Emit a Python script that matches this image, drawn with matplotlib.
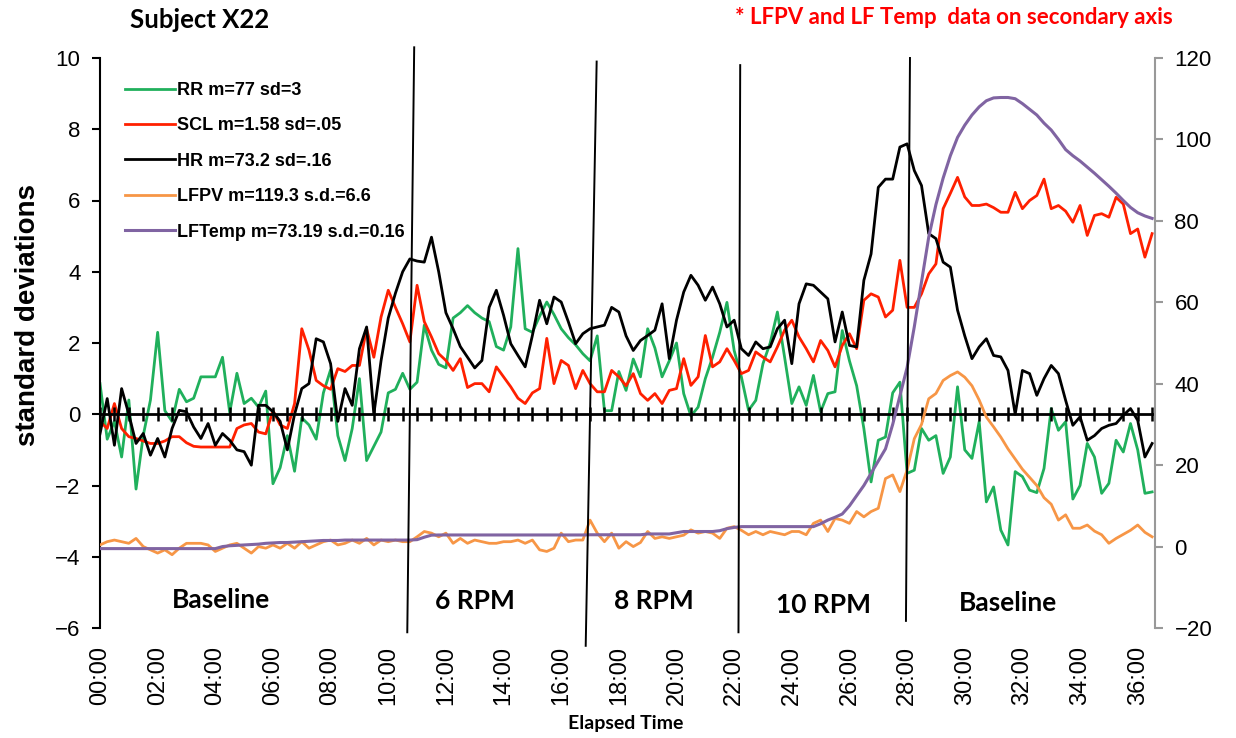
import matplotlib
matplotlib.use("Agg")
import matplotlib.pyplot as plt
import numpy as np
from matplotlib.lines import Line2D

# samples every 15 s (0.25 min), 0 .. 36.5 min
rr = [0.86, -0.7, -0.2, -1.2,
      0.4, -2.1, -0.6, 0.4,
      2.3, 0.1, -0.2, 0.7,
      0.35, 0.45, 1.05, 1.05,
      1.05, 1.6, 0.05, 1.15,
      0.3, 0.45, 0.2, 0.65,
      -1.95, -1.5, -0.6, -1.6,
      -0.1, -0.3, -0.7, 0.6,
      1.25, -0.6, -1.3, -0.4,
      1.0, -1.3, -0.9, -0.5,
      0.6, 0.7, 1.15, 0.7,
      0.9, 2.5, 1.8, 1.4,
      1.3, 2.7, 2.85, 3.05,
      2.85, 2.7, 2.6, 1.9,
      1.8, 2.45, 4.65, 2.4,
      2.3, 2.75, 3.15, 2.8,
      2.4, 2.15, 1.95, 1.7,
      1.5, 2.2, 0.1, 0.1,
      1.2, 0.67, 1.55, 1.05,
      2.4, 1.86, 1.05, 1.5,
      2.0, 0.58, -0.05, 0.2,
      1.0, 1.6, 2.3, 3.14,
      1.79, 1.05, 0.11, 0.39,
      1.42, 2.0, 2.87, 1.6,
      0.3, 0.77, 0.25, 1.09,
      0.07, 0.58, 0.63, 2.35,
      1.5, 0.8, -0.4, -1.9,
      -0.73, -0.64, 0.6, 0.9,
      -1.66, -1.57, -0.4, -0.73,
      -0.6, -1.66, -1.2, 0.77,
      -1.0, -1.24, -0.21, -2.46,
      -2.04, -3.25, -3.67, -1.61,
      -1.75, -2.13, -2.2, -1.52,
      0.16, -0.45, -0.21, -2.38,
      -2.0, -0.82, -1.2, -2.22,
      -1.94, -0.73, -1.06, -0.26,
      -1.0, -2.22, -2.18]

scl = [-0.2, -0.4, 0.3, -0.4,
       -0.63, -0.68, -0.75, -0.82,
       -0.82, -0.75, -0.63, -0.63,
       -0.8, -0.9, -0.92, -0.92,
       -0.92, -0.92, -0.92, -0.4,
       -0.3, -0.26, -0.5, -0.55,
       0.1, -0.3, -0.4, 0.3,
       2.4, 1.8, 0.95, 0.8,
       0.7, 1.28, 1.2, 1.37,
       1.37, 2.4, 1.6, 2.73,
       3.48, 3.0, 2.54, 2.03,
       3.62, 2.6, 2.17, 1.7,
       1.51, 1.23, 1.56, 0.75,
       0.86, 0.86, 0.63, 1.33,
       1.05, 0.77, 0.45, 0.3,
       0.6, 0.72, 2.13, 0.86,
       1.51, 1.37, 0.72, 1.23,
       0.86, 0.63, 0.63, 1.23,
       1.05, 0.8, 1.14, 0.58,
       0.39, 0.58, 0.3, 0.67,
       0.72, 1.56, 0.81, 1.05,
       2.21, 1.33, 1.47, 1.84,
       1.51, 1.14, 1.23, 1.75,
       1.6, 1.47, 1.89, 2.36,
       2.64, 2.17, 1.84, 1.47,
       2.07, 1.79, 1.33, 1.93,
       2.26, 1.84, 3.2, 3.38,
       3.29, 2.73, 2.92, 4.32,
       3.0, 3.0, 3.38, 3.94,
       4.22, 5.77, 6.2, 6.65,
       6.1, 5.86, 5.86, 5.9,
       5.8, 5.67, 5.67, 6.23,
       5.77, 6.0, 6.14, 6.6,
       5.77, 5.86, 5.7, 5.39,
       5.86, 5.02, 5.58, 5.63,
       5.53, 6.09, 5.9, 5.07,
       5.2, 4.41, 5.07]

hr = [-0.55, 0.44, -0.87, 0.72,
      0.0, -0.82, -0.54, -1.15,
      -0.68, -1.2, -0.4, 0.11,
      0.07, -0.36, -0.68, -0.26,
      -0.87, -0.54, -0.73, -1.0,
      -1.05, -1.43, 0.25, 0.25,
      0.07, -0.2, -1.0, 0.0,
      0.72, 0.86, 2.12, 2.03,
      1.42, -0.2, 0.72, 0.25,
      1.84, 2.45, 0.0, 1.5,
      2.7, 3.4, 4.0, 4.36,
      4.3, 4.27, 4.97, 4.0,
      2.85, 2.4, 1.9, 1.6,
      1.3, 1.51, 3.0, 3.48,
      2.78, 1.98, 1.65, 1.33,
      2.21, 3.2, 2.54, 3.29,
      3.15, 2.59, 1.98, 2.26,
      2.4, 2.45, 2.5, 3.0,
      2.87, 2.2, 1.79, 2.07,
      2.21, 2.36, 3.1, 1.56,
      2.64, 3.43, 3.9, 3.62,
      3.2, 3.57, 3.1, 2.45,
      2.64, 1.84, 1.65, 2.03,
      1.84, 1.89, 2.4, 2.64,
      1.42, 3.1, 3.66, 3.62,
      3.43, 3.24, 2.03, 2.87,
      1.93, 1.89, 3.76, 4.5,
      6.37, 6.6, 6.6, 7.5,
      7.59, 6.84, 6.42, 5.07,
      4.93, 4.27, 4.13, 2.92,
      2.2, 1.56, 1.89, 2.12,
      1.65, 1.61, 1.23, 0.0,
      1.23, 1.14, 0.53, 1.0,
      1.37, 1.14, 0.39, -0.31,
      -0.07, -0.73, -0.6, -0.4,
      -0.31, -0.26, -0.03, 0.16,
      -0.17, -1.2, -0.82]

# secondary axis series
lfpv = [0.4, 1.2, 1.6, 1.2,
        0.8, 2.0, 0.0, -0.8,
        -1.6, -0.8, -2.0, -0.4,
        0.8, 0.8, 0.8, 0.4,
        -1.2, -0.4, 0.4, 0.8,
        -0.4, -1.6, 0.0, -0.4,
        0.4, -0.4, 0.8, -0.4,
        1.2, -0.4, 0.4, 1.2,
        1.6, 0.4, 0.8, 1.6,
        0.8, 2.0, 0.4, 1.6,
        1.2, 1.6, 1.2, 1.2,
        2.4, 3.7, 3.3, 2.4,
        3.3, 0.8, 2.0, 0.8,
        1.6, 1.2, 0.8, 0.8,
        1.2, 1.2, 1.6, 0.8,
        1.6, -0.8, -1.2, -0.4,
        3.3, 1.2, 1.6, 1.6,
        6.5, 3.3, 1.2, 3.3,
        -0.4, 1.2, 0.0, 1.0,
        3.7, 2.0, 2.4, 2.0,
        2.4, 2.8, 4.1, 3.3,
        3.7, 3.3, 2.0, 4.5,
        4.9, 4.0, 2.9, 3.7,
        2.9, 3.7, 3.3, 2.9,
        3.7, 3.7, 2.9, 5.7,
        6.5, 3.7, 6.9, 6.5,
        5.7, 8.6, 7.3, 8.6,
        9.4, 16.7, 17.6, 13.5,
        18.8, 26.5, 30.0, 36.3,
        37.6, 40.8, 42.0, 42.9,
        41.6, 39.5, 36.0, 31.8,
        29.4, 26.9, 24.0, 21.5,
        19.0, 17.0, 15.0, 12.0,
        10.4, 6.5, 7.8, 4.5,
        4.5, 5.3, 3.8, 2.9,
        0.8, 2.0, 3.0, 4.0,
        5.3, 3.5, 2.4]

lftemp = [-0.5, -0.5, -0.5, -0.5,
          -0.5, -0.5, -0.5, -0.5,
          -0.5, -0.5, -0.5, -0.5,
          -0.5, -0.5, -0.5, -0.5,
          -0.5, 0.0, 0.2, 0.3,
          0.4, 0.5, 0.6, 0.8,
          0.9, 1.0, 1.0, 1.1,
          1.2, 1.3, 1.4, 1.5,
          1.5, 1.5, 1.6, 1.6,
          1.6, 1.6, 1.6, 1.6,
          1.6, 1.6, 1.6, 1.6,
          1.7, 2.3, 2.8, 2.85,
          2.85, 2.85, 2.85, 2.85,
          2.85, 2.85, 2.85, 2.85,
          2.85, 2.85, 2.85, 2.85,
          2.85, 2.85, 2.85, 2.85,
          2.85, 2.85, 2.85, 2.85,
          2.9, 2.9, 2.9, 2.9,
          2.9, 2.9, 2.9, 2.9,
          3.1, 3.1, 3.1, 3.1,
          3.4, 3.7, 3.7, 3.7,
          3.7, 3.7, 3.9, 4.4,
          4.7, 4.9, 4.9, 4.9,
          4.9, 4.9, 4.9, 4.9,
          4.9, 4.9, 4.9, 4.9,
          5.6, 6.5, 7.2, 8.0,
          10.0, 12.5, 15.0, 18.0,
          21.0, 24.0, 30.0, 37.0,
          44.0, 54.0, 65.0, 76.0,
          84.0, 90.5, 96.0, 100.5,
          103.5, 106.0, 108.0, 109.5,
          110.2, 110.3, 110.3, 110.0,
          108.8, 107.4, 106.0, 104.0,
          102.3, 100.0, 97.5, 96.0,
          94.7, 93.2, 91.7, 90.1,
          88.5, 86.8, 85.0, 83.3,
          82.0, 81.2, 80.6]

minutes = np.arange(len(rr)) * 0.25

labels = ["RR m=77 sd=3", "SCL m=1.58 sd=.05", "HR m=73.2 sd=.16",
          "LFPV m=119.3 s.d.=6.6", "LFTemp m=73.19 s.d.=0.16"]
colors = ["#20B05C", "#FF2000", "#000000", "#F79646", "#8064A2"]

# protocol phases (boundary lines drawn slightly slanted like the original)
phase_names = ["Baseline", "6 RPM", "8 RPM", "10 RPM", "Baseline"]
phase_label_x = [4.2, 13.0, 19.2, 25.1, 31.5]
phase_label_y = [-5.2, -5.25, -5.25, -5.35, -5.3]
bound_top = [10.9, 17.23, 22.21, 28.1]
bound_bot = [10.66, 16.85, 22.15, 27.96]
bound_ytop = [10.3, 9.9, 9.8, 10.0]
bound_ybot = [-6.12, -6.5, -6.12, -5.8]

calibri = ["Lato", "DejaVu Sans"]
arial = ["Liberation Sans", "DejaVu Sans"]
plt.rcParams["font.family"] = arial

fig = plt.figure(figsize=(12.36, 7.38), dpi=100)
ax = fig.add_axes([100 / 1236, 1 - 628 / 738, 1055 / 1236, 570 / 738])
ax2 = ax.twinx()

l_rr, = ax.plot(minutes, rr, color=colors[0], lw=2)
l_scl, = ax.plot(minutes, scl, color=colors[1], lw=2)
l_hr, = ax.plot(minutes, hr, color=colors[2], lw=2)
l_pv, = ax2.plot(minutes, lfpv, color=colors[3], lw=2)
l_tp, = ax2.plot(minutes, lftemp, color=colors[4], lw=2.2)

# zero line with minor ticks every 30 s
ax.axhline(0, color="black", lw=2, zorder=3)
half_min = np.arange(0, 36.6, 0.5)
ax.plot(half_min, np.zeros_like(half_min), ls="none", marker="|", ms=10,
        mew=1.8, color="black", zorder=3, clip_on=False)

ax.set_xlim(0, 36.6)
ax.set_ylim(-6, 10)
ax.set_yticks(np.arange(-6, 11, 2))
ax2.set_ylim(-20, 120)
ax2.set_yticks(np.arange(-20, 121, 20))

xt = np.arange(0, 37, 2)
ax.set_xticks(xt)
ax.set_xticklabels(["%02d:00" % m for m in xt], rotation=90)
ax.tick_params(axis="x", length=0, pad=13, labelsize=17)
ax.tick_params(axis="y", direction="out", length=6, width=1.5, labelsize=16, pad=8)
ax2.tick_params(axis="y", direction="out", length=6, width=1.5, color="#999999",
                labelsize=16, pad=8)

for s in ["top", "right", "bottom"]:
    ax.spines[s].set_visible(False)
for s in ["top", "left", "bottom"]:
    ax2.spines[s].set_visible(False)
ax.spines["left"].set_linewidth(1.5)
ax2.spines["right"].set_color("#999999")
ax2.spines["right"].set_linewidth(1.5)

# phase boundaries and labels
for xt0, xb0, yt0, yb0 in zip(bound_top, bound_bot, bound_ytop, bound_ybot):
    ax2.add_line(Line2D([xt0, xb0], [yt0, yb0], transform=ax.transData,
                        color="black", lw=1.4, clip_on=False, zorder=5))
for name, px, py in zip(phase_names, phase_label_x, phase_label_y):
    ax.text(px, py, name, ha="center", va="center", fontsize=19,
            fontweight="bold", family=calibri)

ax2.legend([l_rr, l_scl, l_hr, l_pv, l_tp], labels, loc="upper left",
           bbox_to_anchor=(0.0237, 0.958), frameon=False, borderaxespad=0,
           borderpad=0, handlelength=2.75, handletextpad=0.15, labelspacing=1.02,
           prop={"family": arial, "weight": "bold", "size": 13})

fig.text(28 / 1236, 0.573, "standard deviations", rotation=90, ha="center",
         va="center", fontsize=20, fontweight="bold")
fig.text(0.506, 1 - 723 / 738, "Elapsed Time", ha="center", va="center",
         fontsize=14, fontweight="bold", family=calibri)
fig.text(130 / 1236, 1 - 20 / 738, "Subject X22", ha="left", va="center",
         fontsize=18.5, fontweight="bold", family=calibri)
fig.text(735 / 1236, 1 - 18 / 738, "* LFPV and LF Temp  data on secondary axis",
         ha="left", va="center", fontsize=16, fontweight="bold", color="#FF0000",
         family=calibri)

fig.savefig("out.png", dpi=100)
